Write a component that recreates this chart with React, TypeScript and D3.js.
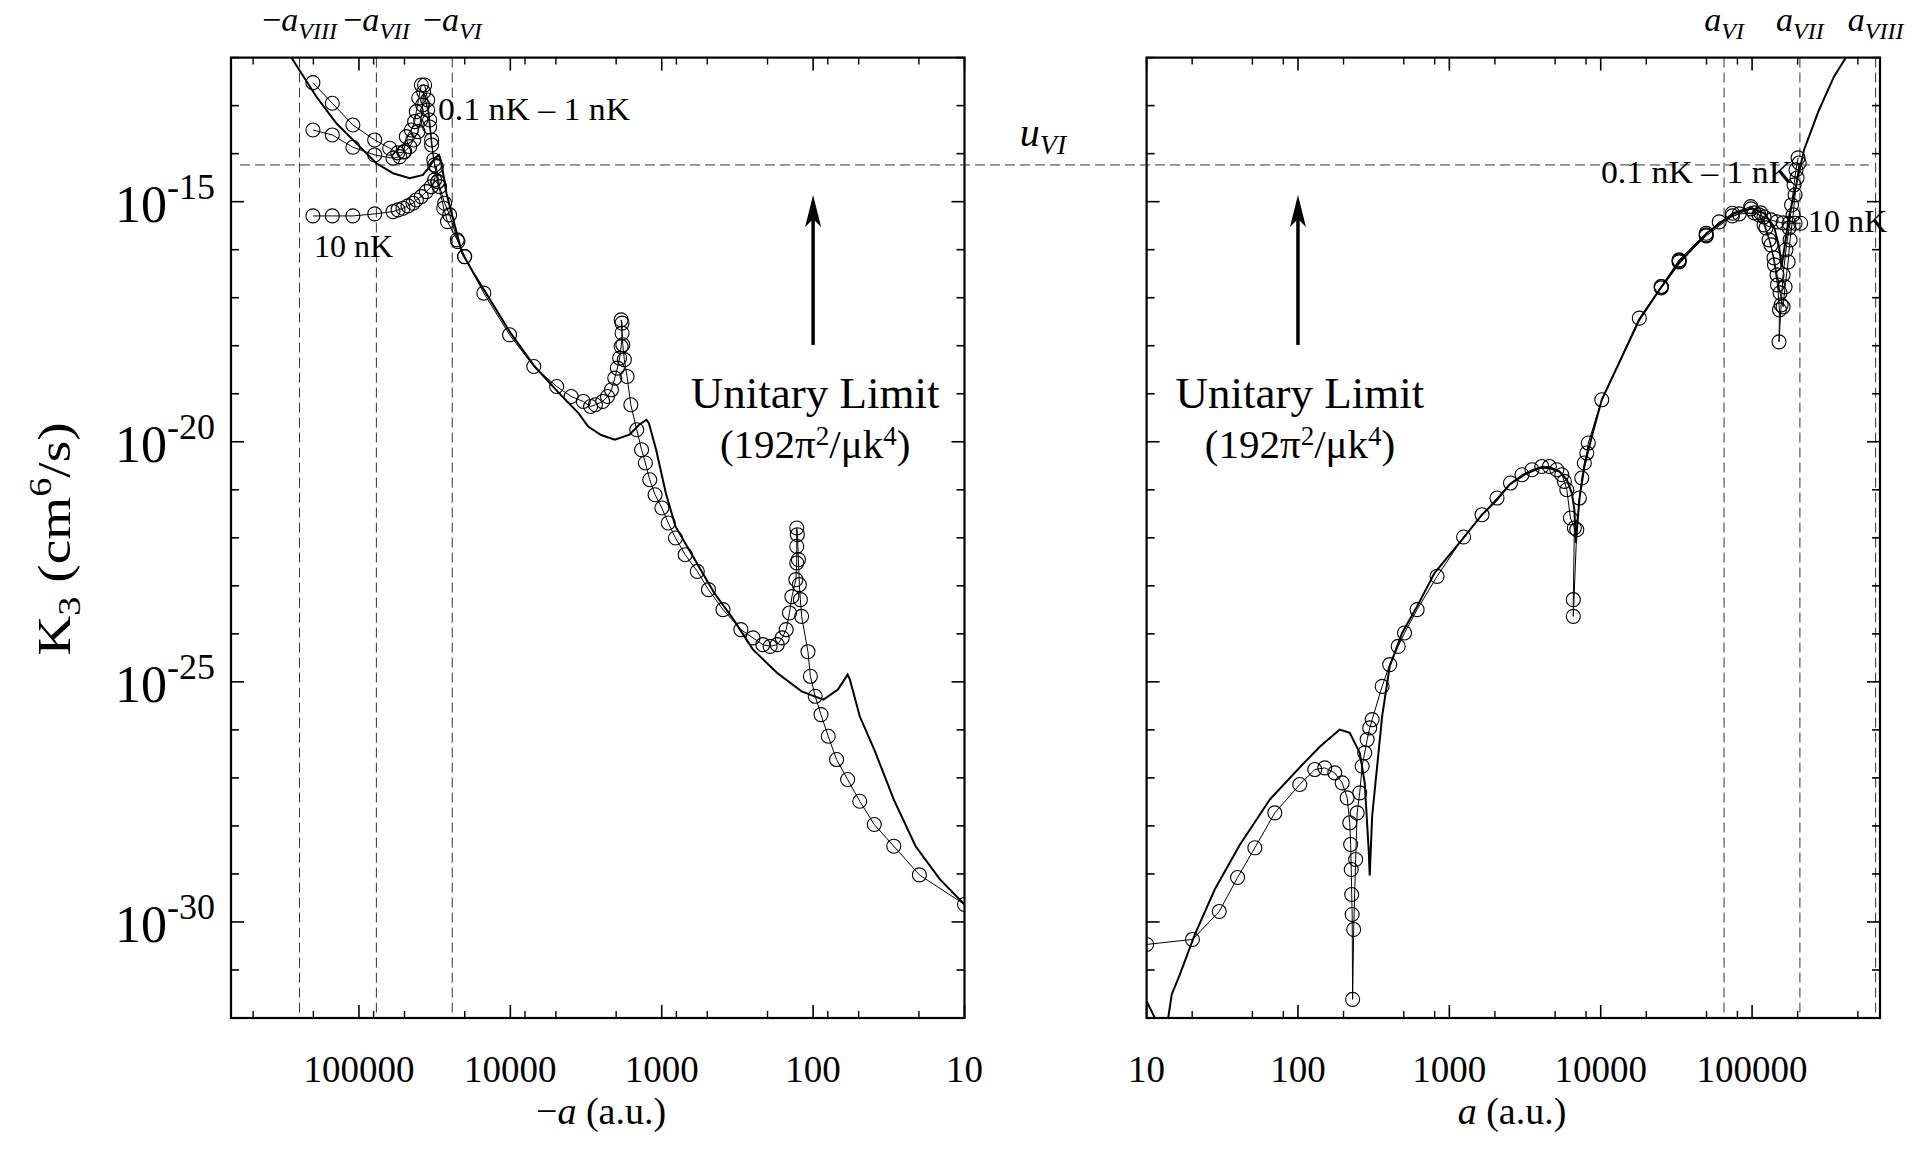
import React from 'react';
import * as d3 from 'd3';

type P = [number, number];

// ---------- DATA: pairs of [log10 |a| (a.u.), log10 K3 (cm^6/s)] ----------
const leftTheory: P[] = [
  [5.491, -11.78], [5.436, -12.05], [5.282, -12.81], [5.149, -13.367], [4.995, -13.854], [4.885, -14.2],
  [4.775, -14.408], [4.665, -14.512], [4.577, -14.443], [4.533, -14.27], [4.5, -14.096], [4.471, -14.027],
  [4.455, -14.2], [4.422, -14.824], [4.379, -15.35], [4.319, -16.067], [4.246, -16.47], [4.174, -16.837],
  [3.999, -17.732], [3.839, -18.433], [3.678, -18.987], [3.55, -19.403], [3.486, -19.682], [3.4, -19.86],
  [3.31, -19.958], [3.213, -19.854], [3.149, -19.646], [3.101, -19.542], [3.085, -19.611], [3.037, -20.167],
  [2.973, -21.068], [2.909, -21.763], [2.781, -22.456], [2.653, -23.149], [2.525, -23.705], [2.397, -24.329],
  [2.237, -24.814], [2.076, -25.197], [1.932, -25.37], [1.836, -25.162], [1.772, -24.849], [1.757, -24.953],
  [1.692, -25.717], [1.596, -26.41], [1.467, -27.451], [1.323, -28.423], [1.162, -29.115], [1.0, -29.635],
];

const left01nK: P[] = [
  [5.304, -12.522], [5.176, -12.951], [5.04, -13.403], [4.896, -13.715], [4.797, -13.888], [4.744, -13.985],
  [4.704, -13.965], [4.687, -13.646], [4.654, -13.507], [4.632, -13.334], [4.621, -13.126], [4.605, -12.841],
  [4.588, -12.57], [4.566, -12.57], [4.546, -12.882], [4.533, -13.299], [4.52, -13.715], [4.506, -14.131],
  [4.479, -14.583], [4.44, -15.136], [4.415, -15.415], [4.351, -15.796], [4.303, -16.144], [4.175, -16.905],
  [4.005, -17.773], [3.845, -18.433], [3.694, -18.849], [3.598, -19.057], [3.518, -19.161], [3.47, -19.265],
  [3.438, -19.23], [3.39, -19.161], [3.358, -19.057], [3.332, -18.918], [3.31, -18.674], [3.293, -18.466],
  [3.278, -18.258], [3.268, -18.017], [3.262, -17.738], [3.262, -17.53], [3.268, -17.461], [3.257, -17.98],
  [3.247, -18.29], [3.229, -18.641], [3.204, -19.23], [3.165, -19.75], [3.133, -20.167], [3.108, -20.443],
  [3.079, -20.791], [3.044, -21.103], [2.999, -21.38], [2.957, -21.692], [2.909, -22.004], [2.845, -22.352],
  [2.765, -22.699], [2.691, -23.08], [2.595, -23.496], [2.477, -23.913], [2.397, -24.085], [2.332, -24.225],
  [2.284, -24.26], [2.237, -24.225], [2.204, -24.085], [2.178, -23.913], [2.156, -23.565], [2.14, -23.226],
  [2.114, -22.872], [2.108, -22.525], [2.108, -22.179], [2.108, -21.796], [2.104, -21.935], [2.097, -22.455],
  [2.091, -22.976], [2.084, -23.288], [2.076, -23.636], [2.034, -24.372], [2.018, -24.884], [1.986, -25.301],
  [1.948, -25.682], [1.9, -26.133], [1.845, -26.618], [1.772, -27.034], [1.692, -27.486], [1.596, -27.971],
  [1.467, -28.422], [1.298, -29.02], [1.0, -29.635],
];

const left1nK: P[] = [
  [5.304, -13.507], [5.176, -13.611], [5.04, -13.867], [4.896, -14.027], [4.775, -14.096], [4.731, -14.062],
  [4.698, -13.958], [4.665, -13.854], [4.638, -13.715], [4.61, -13.542], [4.592, -13.299], [4.579, -12.986],
  [4.572, -12.716], [4.546, -13.091], [4.533, -13.445], [4.52, -13.819], [4.5, -14.235], [4.479, -14.583],
];

const left10nK: P[] = [
  [5.304, -15.297], [5.176, -15.297], [5.04, -15.297], [4.896, -15.255], [4.775, -15.207], [4.742, -15.172],
  [4.709, -15.136], [4.676, -15.088], [4.643, -15.032], [4.621, -14.964], [4.588, -14.895], [4.555, -14.791],
  [4.522, -14.687], [4.5, -14.547], [4.489, -14.271], [4.467, -14.687], [4.434, -15.032], [4.401, -15.276],
  [4.346, -15.831], [4.301, -16.144],
];

const rightTheory: P[] = [
  [1.0, -31.65], [1.055, -32.0], [1.1, -32.6], [1.143, -31.994], [1.166, -31.509], [1.22, -31.09],
  [1.319, -30.26], [1.451, -29.32], [1.616, -28.39], [1.814, -27.45], [2.012, -26.78], [2.144, -26.35],
  [2.276, -25.994], [2.342, -26.063], [2.408, -26.479], [2.441, -27.103], [2.467, -28.491], [2.474, -29.032],
  [2.49, -27.798], [2.523, -26.758], [2.556, -25.717], [2.606, -24.676], [2.688, -23.981], [2.787, -23.428],
  [2.902, -22.733], [3.084, -22.039], [3.216, -21.519], [3.315, -21.207], [3.397, -20.895], [3.496, -20.686],
  [3.595, -20.547], [3.661, -20.547], [3.727, -20.618], [3.776, -20.791], [3.809, -21.068], [3.826, -21.415],
  [3.836, -22.108], [3.859, -21.207], [3.892, -20.514], [3.941, -19.89], [4.007, -19.126], [4.255, -17.461],
  [4.403, -16.768], [4.518, -16.281], [4.7, -15.657], [4.881, -15.24], [4.997, -15.136], [5.079, -15.24],
  [5.145, -15.519], [5.178, -15.935], [5.195, -16.352], [5.244, -15.311], [5.294, -14.616], [5.343, -13.923],
  [5.442, -13.091], [5.541, -12.398], [5.623, -11.981], [5.706, -11.53],
];

const right01nK: P[] = [
  [1.0, -30.468], [1.303, -30.364], [1.48, -29.781], [1.601, -29.074], [1.715, -28.456], [1.847, -27.728],
  [2.012, -27.138], [2.111, -26.826], [2.177, -26.791], [2.243, -26.895], [2.292, -27.103], [2.325, -27.415],
  [2.342, -27.935], [2.348, -28.387], [2.352, -28.907], [2.355, -29.428], [2.358, -29.844], [2.361, -31.613],
  [2.368, -30.156], [2.381, -28.699], [2.391, -27.728], [2.408, -27.311], [2.424, -26.758], [2.441, -26.479],
  [2.457, -26.202], [2.474, -25.959], [2.49, -25.786], [2.556, -25.093], [2.606, -24.641], [2.662, -24.26],
  [2.704, -23.981], [2.787, -23.496], [2.919, -22.803], [3.094, -21.983], [3.216, -21.519], [3.315, -21.172],
  [3.404, -20.86], [3.48, -20.687], [3.546, -20.583], [3.611, -20.514], [3.661, -20.514], [3.71, -20.583],
  [3.743, -20.687], [3.76, -20.826], [3.776, -20.999], [3.8, -21.588], [3.826, -21.796], [3.819, -23.288],
  [3.819, -23.636], [3.842, -21.831], [3.859, -21.172], [3.875, -20.755], [3.892, -20.443], [3.908, -20.235],
  [3.918, -20.027], [4.007, -19.126], [4.255, -17.426], [4.4, -16.768], [4.518, -16.212], [4.697, -15.657],
  [4.87, -15.24], [4.991, -15.103], [5.057, -15.234], [5.092, -15.546], [5.125, -15.9], [5.148, -16.316],
  [5.168, -16.733], [5.181, -17.253], [5.178, -17.919], [5.192, -17.149], [5.205, -16.524], [5.224, -16.004],
  [5.244, -15.546], [5.261, -15.068], [5.277, -14.651], [5.29, -14.339], [5.304, -14.089],
];

const right1nK: P[] = [
  [4.4, -16.768], [4.518, -16.254], [4.697, -15.713], [4.87, -15.297], [4.993, -15.151], [5.046, -15.276],
  [5.079, -15.484], [5.112, -15.796], [5.145, -16.171], [5.165, -16.525], [5.185, -16.899], [5.205, -17.19],
  [5.218, -16.774], [5.238, -16.254], [5.251, -15.796], [5.271, -15.276], [5.284, -14.859], [5.297, -14.506],
  [5.311, -14.194],
];

const right10nK: P[] = [
  [4.4, -16.795], [4.518, -16.233], [4.697, -15.692], [4.783, -15.421], [4.915, -15.255], [5.014, -15.234],
  [5.079, -15.317], [5.125, -15.38], [5.165, -15.421], [5.205, -15.442], [5.244, -15.449], [5.284, -15.449],
  [5.321, -15.449],
];

const xTickMajor = [10, 100, 1000, 10000, 100000];
const xTickLabels = ['10', '100', '1000', '10000', '100000'];
const xMinorMult = [2, 5, 8];
const yExpLabels = [-15, -20, -25, -30];
const leftEfimov = [{ sub: 'VIII', a: 2.47e5 }, { sub: 'VII', a: 7.67e4 }, { sub: 'VI', a: 2.42e4 }];
const rightEfimov = [{ sub: 'VI', a: 6.53e4 }, { sub: 'VII', a: 2.07e5 }, { sub: 'VIII', a: 6.55e5 }];
const uVI = 5.82e-15;
const arrowA = 100;
const arrowK: [number, number] = [1.04e-18, 1.38e-15];

// ---------- LAYOUT ----------
const W = 1912, H = 1157;
const LX0 = 231, LX1 = 964.5, RX0 = 1146.6, RX1 = 1880, YT = 57.6, YB = 1018;
const SERIF = '"Liberation Serif", "DejaVu Serif", Times, serif';

export default function App() {
  const yS = d3.scaleLog().domain([1e-32, 1e-12]).range([YB, YT]);
  const xL = d3.scaleLog().domain([7e5, 10]).range([LX0, LX1]);
  const xR = d3.scaleLog().domain([10, 7e5]).range([RX0, RX1]);

  const panels = [
    { id: 'L', xs: xL, x0: LX0, x1: LX1, theory: leftTheory, series: [left01nK, left1nK, left10nK], efimov: leftEfimov, neg: true },
    { id: 'R', xs: xR, x0: RX0, x1: RX1, theory: rightTheory, series: [right01nK, right1nK, right10nK], efimov: rightEfimov, neg: false },
  ];

  const minorX: number[] = [];
  for (let n = 1; n <= 5; n++) for (const m of xMinorMult) { const v = m * 10 ** n; if (v < 7e5) minorX.push(v); }
  const yTicks = d3.range(-32, -11).map((e) => ({ v: 10 ** e, major: e % 5 === 0 }));

  const mk = (xs: any) => d3.line<P>().x((d) => xs(10 ** d[0])).y((d) => yS(10 ** d[1]));

  return (
    <div style={{ position: 'absolute', left: 0, top: 0 }}>
      <svg width={W} height={H} viewBox={`0 0 ${W} ${H}`} style={{ display: 'block', background: '#fff' }} fontFamily={SERIF}>
        <defs>
          {panels.map((p) => (
            <clipPath id={`clip${p.id}`} key={p.id}>
              <rect x={p.x0} y={YT} width={p.x1 - p.x0} height={YB - YT} />
            </clipPath>
          ))}
        </defs>

        {panels.map((p) => {
          const line = mk(p.xs);
          const ax = p.xs(arrowA);
          return (
            <g key={p.id}>
              <g clipPath={`url(#clip${p.id})`}>
                {p.efimov.map((e, i) => (
                  <line key={i} x1={p.xs(e.a)} x2={p.xs(e.a)} y1={YT} y2={YB} stroke="#333" strokeWidth={1} strokeDasharray="10 5" />
                ))}
                <path d={line(p.theory) || ''} fill="none" stroke="#000" strokeWidth={2} />
                {p.series.map((s, si) => (
                  <g key={si}>
                    <path d={line(s) || ''} fill="none" stroke="#000" strokeWidth={1} />
                    {s.map((d, i) => (
                      <circle key={i} cx={p.xs(10 ** d[0])} cy={yS(10 ** d[1])} r={7} fill="none" stroke="#000" strokeWidth={1.1} />
                    ))}
                  </g>
                ))}
              </g>
              <rect x={p.x0} y={YT} width={p.x1 - p.x0} height={YB - YT} fill="none" stroke="#000" strokeWidth={2.2} />
              {xTickMajor.map((v) => (
                <g key={`M${v}`}>
                  <line x1={p.xs(v)} x2={p.xs(v)} y1={YB} y2={YB - 13} stroke="#000" strokeWidth={1.6} />
                  <line x1={p.xs(v)} x2={p.xs(v)} y1={YT} y2={YT + 13} stroke="#000" strokeWidth={1.6} />
                </g>
              ))}
              {minorX.map((v) => (
                <g key={`m${v}`}>
                  <line x1={p.xs(v)} x2={p.xs(v)} y1={YB} y2={YB - 7} stroke="#000" strokeWidth={1.4} />
                  <line x1={p.xs(v)} x2={p.xs(v)} y1={YT} y2={YT + 7} stroke="#000" strokeWidth={1.4} />
                </g>
              ))}
              {yTicks.map((t, i) => {
                const L = t.major ? 13 : 8;
                return (
                  <g key={i}>
                    <line x1={p.x0} x2={p.x0 + L} y1={yS(t.v)} y2={yS(t.v)} stroke="#000" strokeWidth={1.6} />
                    <line x1={p.x1} x2={p.x1 - L} y1={yS(t.v)} y2={yS(t.v)} stroke="#000" strokeWidth={1.6} />
                  </g>
                );
              })}
              {xTickMajor.map((v, i) => (
                <text key={`l${v}`} x={p.xs(v)} y={1082} textAnchor="middle" fontSize={37}>{xTickLabels[i]}</text>
              ))}
              {p.efimov.map((e, i) => (
                <text key={`e${i}`} x={p.xs(e.a)} y={31} textAnchor="middle" fontSize={34}>
                  {p.neg ? <tspan>−</tspan> : null}
                  <tspan fontStyle="italic">a</tspan>
                  <tspan fontStyle="italic" fontSize={24} dy={8}>{e.sub}</tspan>
                </text>
              ))}
              <line x1={ax} x2={ax} y1={yS(arrowK[0])} y2={yS(arrowK[1]) + 20} stroke="#000" strokeWidth={3.5} />
              <path d={`M${ax},${yS(arrowK[1])} l-8,32 l8,-8 l8,8 z`} fill="#000" />
              <text x={ax + 2} y={408} textAnchor="middle" fontSize={45}>Unitary Limit</text>
              <text x={ax + 2} y={458} textAnchor="middle" fontSize={41}>
                (192π<tspan dy={-13} fontSize={27}>2</tspan><tspan dy={13}>/μk</tspan><tspan dy={-13} fontSize={27}>4</tspan><tspan dy={13}>)</tspan>
              </text>
            </g>
          );
        })}

        <line x1={xL(6.1e5)} x2={xR(5.9e5)} y1={yS(uVI)} y2={yS(uVI)} stroke="#333" strokeWidth={1} strokeDasharray="10 5" />
        <text x={1043} y={146} textAnchor="middle" fontSize={40} fontStyle="italic">
          u<tspan fontSize={28} dy={8}>VI</tspan>
        </text>

        <text x={438} y={120} fontSize={32} textLength={192} lengthAdjust="spacingAndGlyphs">0.1 nK – 1 nK</text>
        <text x={314} y={257} fontSize={32}>10 nK</text>
        <text x={1601} y={183} fontSize={32} textLength={192} lengthAdjust="spacingAndGlyphs">0.1 nK – 1 nK</text>
        <text x={1808} y={232} fontSize={32}>10 nK</text>

        {yExpLabels.map((e) => (
          <text key={e} x={215} y={yS(10 ** e) + 20} textAnchor="end" fontSize={52}>
            10<tspan dy={-23} fontSize={36}>{`-${-e}`}</tspan>
          </text>
        ))}

        <g transform="translate(70,539) rotate(-90) scale(1.2,1)">
          <text x={0} y={0} textAnchor="middle" fontSize={46}>
            K<tspan fontSize={32} dy={10}>3</tspan><tspan dy={-10}> (cm</tspan><tspan fontSize={32} dy={-19}>6</tspan><tspan dy={19}>/s)</tspan>
          </text>
        </g>
        <text x={601} y={1124} textAnchor="middle" fontSize={38}>
          −<tspan fontStyle="italic">a</tspan> (a.u.)
        </text>
        <text x={1512} y={1124} textAnchor="middle" fontSize={38}>
          <tspan fontStyle="italic">a</tspan> (a.u.)
        </text>
      </svg>
    </div>
  );
}
